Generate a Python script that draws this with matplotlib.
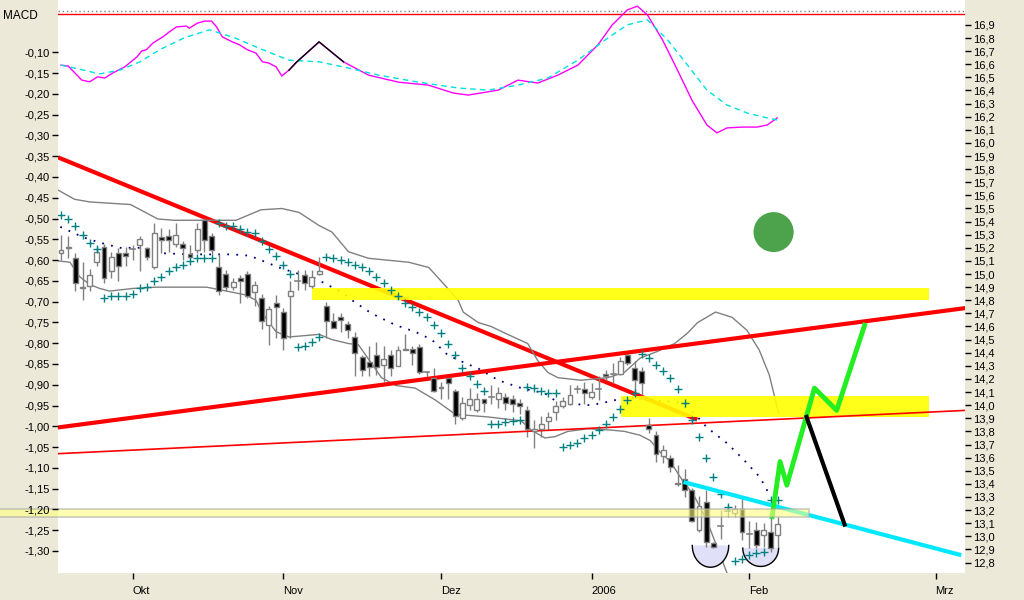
import numpy as np
import matplotlib
matplotlib.use("Agg")
from matplotlib import pyplot as plt
from matplotlib.patches import Rectangle, Ellipse, Polygon
from matplotlib.ticker import FuncFormatter

# --- candles (bar index = trading day) ---
opens = [15.16, 15.21, 15.12, 14.90, 14.91, 15.09, 15.21, 15.02, 15.16, 15.16,
         15.19, 15.22, 15.20, 15.05, 15.28, 15.29, 15.23, 15.23, 15.15, 15.18,
         15.41, 15.29, 15.05, 15.00, 14.90, 14.97, 15.00, 14.86, 14.82, 14.61,
         14.78, 14.71, 14.83, 14.95, 14.99, 14.91, 15.00, 14.76, 14.64, 14.67,
         14.62, 14.52, 14.37, 14.33, 14.38, 14.31, 14.38, 14.30, 14.42, 14.43,
         14.44, 14.25, 14.21, 14.13, 14.21, 14.11, 13.90, 14.00, 13.96, 14.05,
         14.06, 14.05, 14.06, 14.05, 14.02, 13.96, 13.80, 13.82, 13.88, 13.95,
         13.99, 14.01, 14.12, 14.12, 14.06, 14.12, 14.24, 14.24, 14.24, 14.38,
         14.28, 14.26, 13.85, 13.77, 13.61, 13.60, 13.41, 13.44, 13.35, 13.05,
         13.26, 12.95, 13.08, 13.19, 13.18, 13.21, 13.02, 13.05, 13.01, 13.03,
         13.01]
highs = [15.30, 15.29, 15.16, 15.09, 15.04, 15.21, 15.23, 15.17, 15.20, 15.21,
         15.22, 15.29, 15.21, 15.39, 15.35, 15.34, 15.39, 15.25, 15.22, 15.39,
         15.43, 15.31, 15.15, 15.03, 14.97, 14.99, 15.02, 14.95, 14.85, 14.76,
         14.84, 14.74, 14.95, 15.03, 15.03, 15.03, 15.13, 14.79, 14.70, 14.70,
         14.64, 14.56, 14.38, 14.45, 14.48, 14.45, 14.42, 14.45, 14.54, 14.45,
         14.47, 14.26, 14.28, 14.18, 14.23, 14.12, 14.06, 14.13, 14.09, 14.05,
         14.15, 14.14, 14.09, 14.08, 14.05, 13.99, 13.89, 13.92, 13.95, 14.03,
         14.06, 14.15, 14.15, 14.18, 14.17, 14.22, 14.27, 14.32, 14.37, 14.40,
         14.34, 14.29, 13.90, 13.80, 13.70, 13.62, 13.54, 13.51, 13.37, 13.31,
         13.35, 12.96, 13.20, 13.24, 13.24, 13.29, 13.12, 13.11, 13.10, 13.18,
         13.15]
lows = [15.11, 15.12, 14.87, 14.80, 14.87, 15.06, 14.93, 14.97, 14.95, 15.06,
        15.11, 15.02, 15.11, 15.04, 15.16, 15.17, 15.21, 15.11, 15.12, 15.16,
        15.17, 15.15, 14.84, 14.87, 14.88, 14.78, 14.82, 14.76, 14.58, 14.46,
        14.51, 14.42, 14.51, 14.88, 14.88, 14.89, 14.99, 14.51, 14.59, 14.56,
        14.51, 14.22, 14.22, 14.22, 14.23, 14.18, 14.22, 14.30, 14.42, 14.31,
        14.24, 14.21, 14.10, 14.05, 14.05, 13.86, 13.89, 13.96, 13.95, 13.95,
        14.01, 13.98, 13.96, 13.95, 13.93, 13.76, 13.67, 13.76, 13.81, 13.89,
        13.98, 14.00, 14.09, 14.01, 14.05, 14.04, 14.19, 14.17, 14.23, 14.31,
        14.08, 14.08, 13.79, 13.57, 13.56, 13.49, 13.38, 13.30, 13.11, 13.03,
        12.92, 12.91, 12.98, 13.15, 13.15, 12.97, 12.91, 12.91, 12.92, 12.88,
        12.92]
closes = [15.18, 15.20, 14.93, 14.89, 14.99, 15.17, 14.97, 15.13, 15.06, 15.14,
          15.19, 15.27, 15.13, 15.31, 15.26, 15.26, 15.30, 15.20, 15.13, 15.34,
          15.26, 15.18, 14.87, 14.90, 14.94, 14.95, 14.83, 14.92, 14.64, 14.73,
          14.75, 14.51, 14.87, 14.95, 14.93, 14.98, 15.02, 14.64, 14.59, 14.65,
          14.57, 14.40, 14.27, 14.29, 14.29, 14.35, 14.28, 14.42, 14.43, 14.40,
          14.25, 14.25, 14.11, 14.14, 14.17, 13.92, 14.02, 14.05, 14.05, 14.02,
          14.06, 14.09, 14.02, 14.01, 13.99, 13.82, 13.82, 13.86, 13.91, 13.99,
          14.03, 14.08, 14.12, 14.09, 14.10, 14.12, 14.22, 14.24, 14.34, 14.32,
          14.19, 14.17, 13.82, 13.63, 13.66, 13.53, 13.40, 13.35, 13.12, 13.23,
          12.96, 12.92, 13.08, 13.19, 13.21, 13.03, 13.02, 12.93, 13.05, 12.91,
          13.09]

# parabolic SAR, one per bar
sar = [15.45, 15.42, 15.37, 15.30, 15.24, 15.19,
       14.82, 14.83, 14.83, 14.83, 14.85, 14.89, 14.90, 14.95, 14.98, 15.02,
       15.05, 15.07, 15.10, 15.12, 15.12, 15.12,
       15.39, 15.37, 15.37, 15.34, 15.32, 15.31, 15.25, 15.19, 15.14, 15.07, 15.00,
       14.44, 14.45, 14.48, 14.52,
       15.13, 15.12, 15.11, 15.09, 15.07, 15.05, 15.02, 14.98, 14.93, 14.88, 14.83,
       14.78, 14.75, 14.71, 14.67, 14.61, 14.55, 14.47, 14.38, 14.28, 14.22, 14.16, 14.11,
       13.86, 13.86, 13.87, 13.88, 13.89,
       14.14, 14.13, 14.11, 14.09, 14.09,
       13.68, 13.70, 13.71, 13.75, 13.77, 13.81, 13.86, 13.91, 13.97, 14.04, 14.09,
       14.39, 14.36, 14.31, 14.26, 14.21, 14.12, 14.02, 13.89, 13.76, 13.60, 13.45,
       13.32, 13.22,
       12.81, 12.83, 12.86, 12.87, 12.88,
       13.28, 13.28]

# Bollinger bands
bb_up_x = [-0.4, 1.9, 4.0, 9.7, 13.5, 15.8, 24.4, 27.9, 30.8, 33.2, 36.0, 37.8,
           40.1, 42.9, 48.5, 51.3, 53.3, 55.4, 56.1, 58.2, 60.0, 61.9, 65.1, 66.5,
           67.9, 69.3, 72.5, 76.3, 78.6, 80.8, 83.2, 85.6, 87.4, 88.8, 91.3, 93.6,
           95.7, 97.4, 98.8, 100.1]
bb_up = [15.64, 15.57, 15.55, 15.53, 15.42, 15.41, 15.41, 15.49, 15.50, 15.47,
         15.37, 15.32, 15.17, 15.12, 15.09, 15.05, 14.93, 14.80, 14.71, 14.63,
         14.60, 14.55, 14.47, 14.34, 14.25, 14.21, 14.19, 14.21, 14.25, 14.36,
         14.41, 14.47, 14.55, 14.63, 14.71, 14.67, 14.57, 14.42, 14.23, 13.94]
bb_lo_x = [-0.4, 1.25, 2.6, 4.0, 5.4, 6.8, 10.0, 13.3, 20.3, 23.1, 25.8, 27.2,
           28.1, 30.0, 31.8, 36.0, 37.8, 40.1, 41.5, 44.7, 46.7, 49.4, 52.2, 55.0,
           59.6, 64.2, 65.6, 67.5, 68.9, 70.7, 73.5, 76.7, 78.6, 80.8, 82.2, 83.6,
           85.0, 86.4, 88.3, 90.1, 91.5, 92.9]
bb_lo = [15.10, 15.09, 14.98, 14.92, 14.89, 14.87, 14.89, 14.90, 14.90, 14.87,
         14.84, 14.80, 14.70, 14.56, 14.52, 14.54, 14.50, 14.47, 14.46, 14.21,
         14.15, 14.13, 14.04, 13.93, 13.91, 13.88, 13.81, 13.75, 13.76, 13.80,
         13.82, 13.81, 13.80, 13.77, 13.73, 13.64, 13.57, 13.45, 13.31, 13.12,
         12.92, 12.72]
bb_mid_x = [-0.1, 3.1, 5.4, 8.2, 11.0, 13.5, 18.1, 23.9, 26.3, 28.6, 30.4, 33.2,
            35.0, 36.4, 37.8, 39.2, 40.6, 43.3, 46.7, 49.4, 51.7, 54.0, 56.4, 58.2,
            61.0, 64.2, 67.5, 69.3, 71.1, 73.9, 75.8, 79.0, 86.0, 88.3, 90.1, 92.9,
            95.3, 97.5, 98.9]
bb_mid = [15.36, 15.28, 15.24, 15.20, 15.20, 15.16, 15.15, 15.15, 15.14, 15.09,
          15.05, 15.00, 14.98, 14.94, 14.90, 14.86, 14.80, 14.70, 14.61, 14.56,
          14.50, 14.38, 14.32, 14.28, 14.19, 14.13, 14.09, 14.02, 14.01, 14.00,
          14.02, 14.06, 14.02, 13.94, 13.83, 13.71, 13.58, 13.45, 13.31]

# MACD (left scale)
macd_x = [0, 1, 2.9, 4, 5.1, 6.1, 7.2, 8.9, 10.6, 11.25, 11.9, 12.8, 14.2, 15.1,
          16.1, 17.5, 17.9, 19.0, 20, 21, 21.7, 22.5, 23.9, 24.9, 26, 27.2, 28.1,
          29, 30, 30.8, 31.8, 32.9, 36, 39.4, 42.9, 47.1, 51.25, 54.7, 56.8, 61,
          63.75, 66.5, 69.3, 72.1, 74.9, 76.9, 79, 80.4, 81.8, 83.9, 86, 88, 90.1,
          91.5, 92.9, 95, 97.1, 98.5, 99.9]
macd = [-0.131, -0.133, -0.167, -0.171, -0.159, -0.162, -0.150, -0.135, -0.111,
        -0.097, -0.094, -0.078, -0.063, -0.051, -0.039, -0.037, -0.042, -0.030,
        -0.025, -0.025, -0.039, -0.063, -0.075, -0.082, -0.094, -0.102, -0.123,
        -0.126, -0.135, -0.157, -0.143, -0.123, -0.075, -0.123, -0.155, -0.172,
        -0.179, -0.198, -0.203, -0.191, -0.167, -0.174, -0.155, -0.131, -0.082,
        -0.034, 0.002, 0.011, -0.010, -0.070, -0.143, -0.215, -0.275, -0.294,
        -0.282, -0.280, -0.280, -0.275, -0.258]
signal_x = [0, 1.9, 5.4, 8.2, 11, 13.75, 17.2, 20.7, 24.2, 27.6, 31.8, 36, 40.1,
            44.3, 49.9, 55.4, 59.6, 63.75, 67.9, 72.1, 76.25, 79, 81.8, 84.6, 87.4,
            90.1, 92.9, 95.7, 98.5, 99.9]
signal = [-0.131, -0.138, -0.152, -0.143, -0.123, -0.094, -0.065, -0.046, -0.065,
          -0.090, -0.119, -0.123, -0.138, -0.155, -0.172, -0.186, -0.191, -0.179,
          -0.162, -0.119, -0.066, -0.034, -0.022, -0.070, -0.131, -0.191, -0.227,
          -0.246, -0.258, -0.263]

# drawings (bar index, price)
red_down = ([-0.42, 88.75], [15.89, 13.89])
red_up = ([-0.42, 126.1], [13.83, 14.74])
red_thin = ([-0.42, 126.1], [13.63, 13.96])
red_top = 16.98
cyan_line = ([87.1, 125.3], [13.41, 12.86])
green_path = ([99.2, 100.3, 101.25, 105.1, 108.2, 112.1],
              [13.15, 13.57, 13.39, 14.13, 13.96, 14.61])
black_line = ([104.0, 109.3], [13.91, 13.09])
yellow_boxes = [(35.0, 121.1, 14.80, 14.89), (78.1, 121.1, 13.91, 14.07)]
pale_band = (-9.0, 104.3, 13.15, 13.21)
green_dot = (99.4, 15.32)
bowls = [(90.6, 12.93, 2.54, 0.166), (97.6, 12.91, 2.5, 0.140)]

month_pos = [10, 31, 53, 74, 96, 122]
month_lbl = ['Okt', 'Nov', 'Dez', '2006', 'Feb', 'Mrz']

plt.rcParams['font.family'] = ['Liberation Sans', 'DejaVu Sans']
fig = plt.figure(figsize=(10.24, 6), dpi=100, facecolor='#ECE9D8')
ax = fig.add_axes([58 / 1024, 27 / 600, 907 / 1024, 573 / 600])
mac = ax.twinx()
ax.set_facecolor('white')
ax.set_xlim(-0.42, 126.1)
ax.set_ylim(12.72, 17.09)
mac.set_ylim(-1.353, 0.0258)
for s in list(ax.spines.values()) + list(mac.spines.values()):
    s.set_visible(False)

n = len(opens)
xs = np.arange(n)

# trend lines / bands under the yellow boxes
ax.plot(*red_down, color='red', lw=3, zorder=1, solid_capstyle='butt')
ax.plot(bb_up_x, bb_up, color='#808080', lw=1, zorder=1)
ax.plot(bb_lo_x, bb_lo, color='#808080', lw=1, zorder=1)
ax.plot(bb_mid_x, bb_mid, color='#000080', lw=1.3, ls=(0, (1, 4)), zorder=1)

for x0, x1, y0, y1 in yellow_boxes:
    ax.add_patch(Rectangle((x0, y0), x1 - x0, y1 - y0, facecolor='#FFFF00',
                           edgecolor='none', alpha=0.9, zorder=2))

# bowls under the candles
for cx, cy, rx, ry in bowls:
    t = np.linspace(np.pi, 2 * np.pi, 60)
    bx = cx + rx * np.cos(t)
    by = cy + ry * np.sin(t)
    ax.add_patch(Polygon(np.column_stack([bx, by]), closed=True,
                         facecolor='#E0E0F8', edgecolor='none', zorder=2))
    ax.plot(bx, by, color='black', lw=1, zorder=2.5)

# candles
ax.vlines(xs, lows, highs, color='#808080', lw=1, zorder=3)
for i in range(n):
    o, c = opens[i], closes[i]
    if abs(c - o) < 0.006:
        ax.plot([i - 0.35, i + 0.35], [o, o], color='#808080', lw=1.2, zorder=4)
        continue
    face = 'white' if c > o else 'black'
    ax.add_patch(Rectangle((i - 0.34, min(o, c)), 0.68, abs(c - o),
                           facecolor=face, edgecolor='#808080', lw=1, zorder=4))

ax.plot(xs, sar, ls='none', marker='+', ms=5.5, mew=1.0, color='#008080', zorder=5)

ax.plot(*red_up, color='red', lw=3, zorder=3)
ax.plot(*red_thin, color='red', lw=1.2, zorder=3)
ax.axhline(red_top, color='red', lw=1, zorder=3)
ax.plot(*cyan_line, color='#00E8FF', lw=3, zorder=5)
ax.plot(*green_path, color='#22EE22', lw=3.5, zorder=6)
ax.plot(*black_line, color='black', lw=3, zorder=6)
ax.add_patch(Ellipse(green_dot, 5.6, 0.305, facecolor='#4CA34C',
                     edgecolor='none', zorder=6))

x0, x1, y0, y1 = pale_band
ax.add_patch(Rectangle((x0, y0), x1 - x0, y1 - y0, facecolor='#FFFF80',
                       edgecolor='#A8A8A8', lw=1.2, alpha=0.6, zorder=7,
                       clip_on=False))

# price axis on the right
ax.yaxis.tick_right()
ax.set_yticks(np.round(np.arange(128, 170) / 10, 1))
ax.yaxis.set_major_formatter(FuncFormatter(lambda v, p: f"{v:.1f}".replace('.', ',')))
ax.tick_params(axis='y', left=False, labelleft=False, right=True, labelright=True,
               length=4, width=1, pad=2, labelsize=8, colors='black')

ax.set_xticks(month_pos)
ax.set_xticklabels(month_lbl, ha='left')
ax.tick_params(axis='x', length=4, width=1, pad=5, labelsize=8)

# MACD on the left scale
mac.yaxis.tick_left()
mac.plot(macd_x, macd, color='#FF00FF', lw=1, zorder=3)
blk = [k for k, v in enumerate(macd_x) if 31.8 <= v <= 39.4]
mac.plot([macd_x[k] for k in blk], [macd[k] for k in blk], color='black', lw=1, zorder=4)
mac.plot(signal_x, signal, color='#00E0E0', lw=1, ls=(0, (4, 3)), zorder=3)
mac.axhline(0, color='#808080', lw=1, ls=(0, (1, 2)))
mac.set_yticks(np.round(np.arange(-130, -9, 5) / 100, 2))
mac.yaxis.set_major_formatter(FuncFormatter(lambda v, p: f"{v:.2f}".replace('.', ',')))
mac.tick_params(axis='y', left=True, labelleft=True, right=False, labelright=False,
                length=4, width=1, pad=2, labelsize=8, colors='black')

fig.text(3 / 1024, 1 - 16 / 600, 'MACD', fontsize=8.5, va='center', ha='left')

fig.savefig('out.png', dpi=100, facecolor=fig.get_facecolor())
